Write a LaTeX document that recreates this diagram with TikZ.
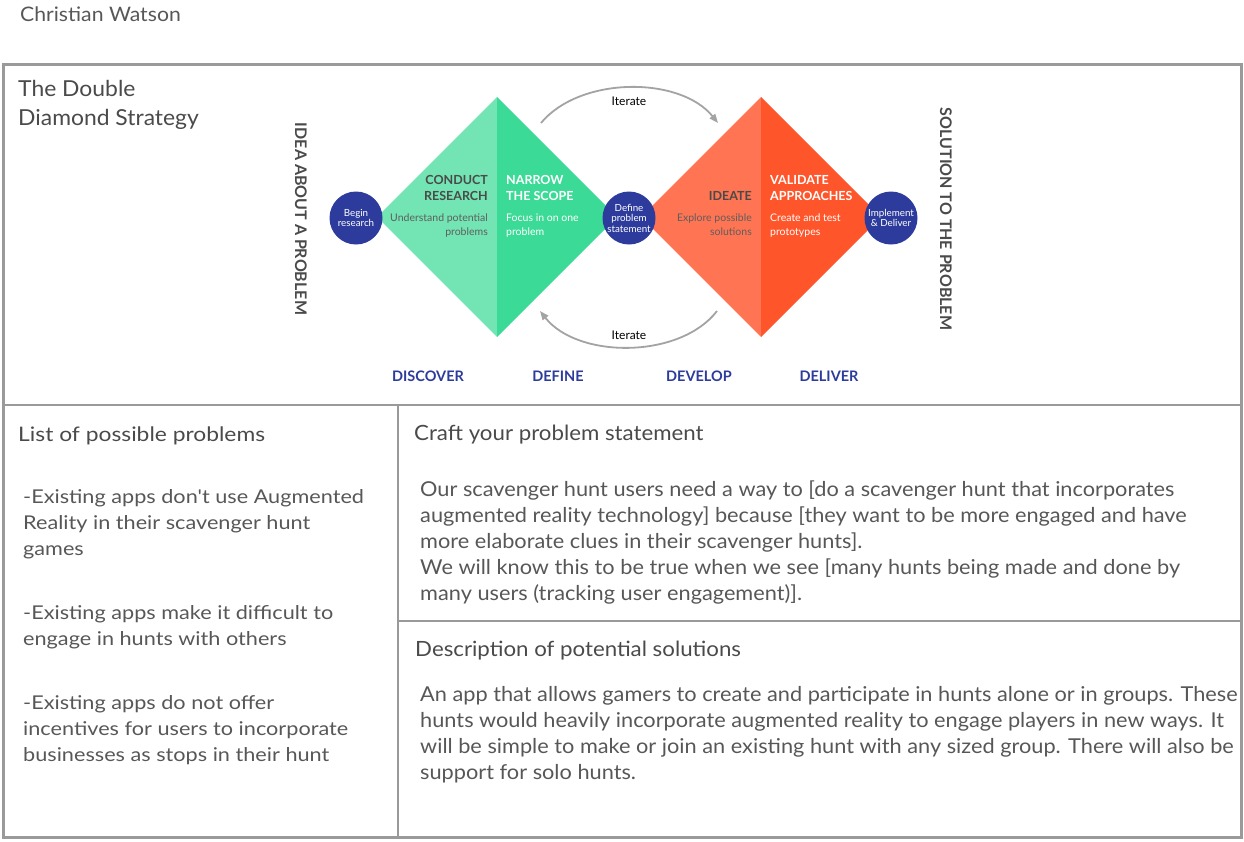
\documentclass[tikz,border=0pt]{standalone}
\usepackage{fontspec}
\setmainfont{Lato}
\newfontfamily\widefont[FakeStretch=1.14]{Lato}
\newfontfamily\midfont[FakeStretch=1.06]{Lato}
\newfontfamily\titlefont[FakeStretch=1.04]{Lato}
\usetikzlibrary{arrows.meta}

\definecolor{framegray}{HTML}{9A9A9A}
\definecolor{bodytext}{HTML}{575757}
\definecolor{headtext}{HTML}{4A4A4A}
\definecolor{greenlight}{HTML}{73E4B3}
\definecolor{greendark}{HTML}{3BDA96}
\definecolor{orangelight}{HTML}{FF7452}
\definecolor{orangedark}{HTML}{FF552A}
\definecolor{navy}{HTML}{2D3C9C}
\definecolor{arcgray}{HTML}{A3A3A3}
\definecolor{subgray}{HTML}{5E5E5E}

\tikzset{
  outerline/.style={draw=framegray, line width=3pt},
  innerline/.style={draw=framegray, line width=2pt},
  % multi-line nodes are anchored at the baseline of their last line
  heading/.style={anchor=base west, inner sep=0pt, text=headtext, align=left,
    font=\widefont\fontsize{20}{29}\selectfont},
  body/.style={anchor=base west, inner sep=0pt, text=bodytext, align=left,
    font=\widefont\fontsize{19}{26}\selectfont},
  rightbody/.style={anchor=base west, inner sep=0pt, text=bodytext, align=left,
    font=\midfont\fontsize{20.5}{26}\selectfont},
  righthead/.style={anchor=base west, inner sep=0pt, text=headtext, align=left,
    font=\midfont\fontsize{21}{26}\selectfont},
  stepcircle/.style={circle, fill=navy, minimum size=53pt, inner sep=0pt,
    text=white, align=center, font=\fontsize{9.8}{10.5}\selectfont},
  steptitle/.style={inner sep=0pt, font=\bfseries\fontsize{12.5}{16}\selectfont},
  stepnote/.style={inner sep=0pt, font=\fontsize{10.5}{14}\selectfont},
  phase/.style={inner sep=0pt, text=navy, font=\bfseries\fontsize{14.5}{14.5}\selectfont},
  sidelabel/.style={inner sep=0pt, text=headtext, rotate=-90,
    font=\bfseries\fontsize{16}{16}\selectfont},
  iterarc/.style={draw=arcgray, line width=1.8pt,
    -{Triangle[length=9pt,width=7pt]}},
  iterlabel/.style={inner sep=0pt, font=\fontsize{12}{12}\selectfont}
}

\begin{document}
\begin{tikzpicture}[x=1pt, y=-1pt]
\useasboundingbox (0,0) rectangle (1244,841);

% author
\node[body, font=\midfont\fontsize{20}{24}\selectfont] (author) at (20,21) {Christian Watson};

% panel frame
\draw[outerline] (3,64) rectangle (1241,837);
\draw[innerline] (3,405) -- (1241,405);
\draw[innerline] (398,405) -- (398,837);
\draw[innerline] (398,621) -- (1241,621);

% title of the top panel
\node[heading, font=\titlefont\fontsize{22}{29}\selectfont] (title) at (18,125) {The Double\\Diamond Strategy};

% double diamond
\fill[greenlight] (497,97) -- (377,217) -- (497,337) -- cycle;
\fill[greendark]  (497,97) -- (617,217) -- (497,337) -- cycle;
\fill[orangelight] (761,97) -- (641,217) -- (761,337) -- cycle;
\fill[orangedark]  (761,97) -- (881,217) -- (761,337) -- cycle;

% step circles
\node[stepcircle] (begin) at (356,218) {Begin\\research};
\node[stepcircle] (define) at (629,218) {Define\\problem\\statement};
\node[stepcircle] (implement) at (891,218) {Implement\\\& Deliver};

% diamond texts
\node[steptitle, anchor=base east, align=right, text=headtext] (conduct) at (488,200) {CONDUCT\\RESEARCH};
\node[stepnote, anchor=base east, align=right, text=subgray] (understand) at (488,235) {Understand potential\\problems};
\node[steptitle, anchor=base west, align=left, text=white] (narrow) at (506,200) {NARROW\\THE SCOPE};
\node[stepnote, anchor=base west, align=left, text=white] (focus) at (506,235) {Focus in on one\\problem};
\node[steptitle, anchor=base east, align=right, text=headtext] (ideate) at (752,200) {IDEATE};
\node[stepnote, anchor=base east, align=right, text=subgray] (explore) at (752,235) {Explore possible\\solutions};
\node[steptitle, anchor=base west, align=left, text=white] (validate) at (770,200) {VALIDATE\\APPROACHES};
\node[stepnote, anchor=base west, align=left, text=white] (create) at (770,235) {Create and test\\prototypes};

% iterate loops
\coordinate (topstart) at (541,123);
\coordinate (topend) at (718,123);
\coordinate (botstart) at (717,311);
\coordinate (botend) at (540,311);
\draw[iterarc] (topstart) .. controls (580,76) and (680,76) .. (topend);
\draw[iterarc] (botstart) .. controls (680,359) and (578,359) .. (botend);
\node[iterlabel] (itertop) at (629,101) {Iterate};
\node[iterlabel] (iterbot) at (629,335) {Iterate};

% side labels
\node[sidelabel] (idea) at (301,219) {IDEA ABOUT A PROBLEM};
\node[sidelabel] (solution) at (946,219) {SOLUTION TO THE PROBLEM};

% phase names
\node[phase] (discover) at (428,376) {DISCOVER};
\node[phase] (definep) at (558,376) {DEFINE};
\node[phase] (develop) at (699,376) {DEVELOP};
\node[phase] (deliver) at (829,376) {DELIVER};

% lower left panel
\node[heading] (listhead) at (18,441) {List of possible problems};
\node[body] (prob1) at (23,555) {-Existing apps don't use Augmented\\Reality in their scavenger hunt\\games};
\node[body] (prob2) at (23,645) {-Existing apps make it difficult to\\engage in hunts with others};
\node[body] (prob3) at (23,761) {-Existing apps do not offer\\incentives for users to incorporate\\businesses as stops in their hunt};

% lower right panels
\node[righthead] (crafthead) at (414,440) {Craft your problem statement};
\node[rightbody] (statement) at (420,600) {Our scavenger hunt users need a way to [do a scavenger hunt that incorporates\\augmented reality technology] because [they want to be more engaged and have\\more elaborate clues in their scavenger hunts].\\We will know this to be true when we see [many hunts being made and done by\\many users (tracking user engagement)].};

\node[righthead] (deschead) at (415,656) {Description of potential solutions};
\node[rightbody] (solutions) at (420,779) {An app that allows gamers to create and participate in hunts alone or in groups. These\\hunts would heavily incorporate augmented reality to engage players in new ways. It\\will be simple to make or join an existing hunt with any sized group. There will also be\\support for solo hunts.};
\end{tikzpicture}
\end{document}
